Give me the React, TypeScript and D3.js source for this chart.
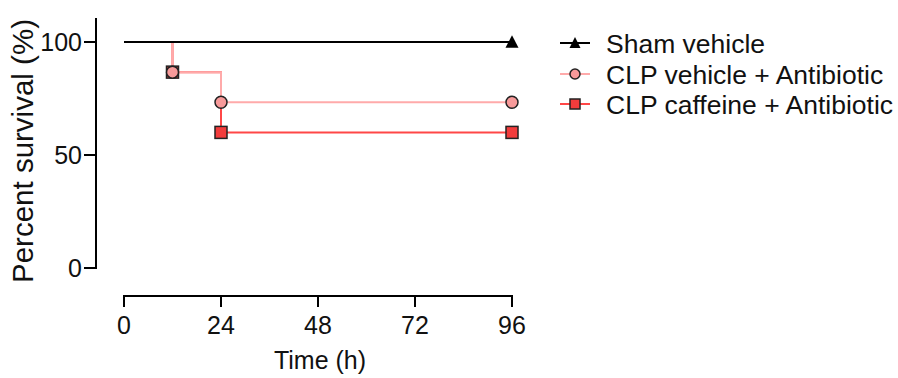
import React from "react";
import * as d3 from "d3";

const seriesNames = ["Sham vehicle", "CLP vehicle + Antibiotic", "CLP caffeine + Antibiotic"];
const shamTimes = [0, 96];
const shamSurvival = [100, 100];
const vehicleTimes = [0, 12, 24, 96];
const vehicleSurvival = [100, 86.67, 73.33, 73.33];
const vehicleMarkTimes = [12, 24, 96];
const vehicleMarkSurv = [86.67, 73.33, 73.33];
const caffeineTimes = [0, 12, 24, 96];
const caffeineSurvival = [100, 86.67, 60, 60];
const caffeineMarkTimes = [12, 24, 96];
const caffeineMarkSurv = [86.67, 60, 60];
const shamMarkTimes = [96];
const shamMarkSurv = [100];
const xTicks = [0, 24, 48, 72, 96];
const yTicks = [0, 50, 100];

const FONT = "'Liberation Sans', Arial, Helvetica, sans-serif";
const BLACK = "#000";
const PINK_LINE = "#ffaaaa";
const PINK_FILL = "#f79a9a";
const RED_LINE = "#ff4747";
const RED_FILL = "#f23c3c";

export default function App() {
  const x = d3.scaleLinear().domain([0, 96]).range([124, 512]);
  const y = d3.scaleLinear().domain([0, 100]).range([268, 42]);
  const yTop = y(110.6);

  const stepLine = d3
    .line<[number, number]>()
    .x((d) => x(d[0]))
    .y((d) => y(d[1]))
    .curve(d3.curveStepAfter);

  const zip = (a: number[], b: number[]) => a.map((v, i) => [v, b[i]] as [number, number]);

  const square = (cx: number, cy: number, s: number, fill: string, key: string) => (
    <rect key={key} x={cx - s / 2} y={cy - s / 2} width={s} height={s} fill={fill} stroke="#222" strokeWidth={1.5} />
  );
  const circle = (cx: number, cy: number, r: number, fill: string, key: string) => (
    <circle key={key} cx={cx} cy={cy} r={r} fill={fill} stroke="#222" strokeWidth={1.5} />
  );
  const tri = (cx: number, cy: number, s: number, key: string) => {
    const h = s * 0.9;
    return (
      <path
        key={key}
        d={`M${cx},${cy - h / 2 - 1}L${cx + s / 2},${cy + h / 2}L${cx - s / 2},${cy + h / 2}Z`}
        fill={BLACK}
      />
    );
  };

  const legendY = [43, 74, 104];

  return (
    <svg
      width={898}
      height={378}
      style={{ position: "absolute", left: 0, top: 0, background: "#fff" }}
      fontFamily={FONT}
    >
      {/* Y axis */}
      <line x1={96} x2={96} y1={yTop} y2={y(0) + 1} stroke={BLACK} strokeWidth={2} />
      {yTicks.map((t) => (
        <g key={"yt" + t}>
          <line x1={84} x2={96} y1={y(t)} y2={y(t)} stroke={BLACK} strokeWidth={2} />
          <text x={82} y={y(t)} dy="0.36em" textAnchor="end" fontSize={25} fill="#111">
            {t}
          </text>
        </g>
      ))}
      <text
        transform={`translate(33, ${151}) rotate(-90)`}
        textAnchor="middle"
        fontSize={29.5}
        fill="#111"
      >
        Percent survival (%)
      </text>

      {/* X axis */}
      <line x1={x(0) - 1} x2={x(96) + 1} y1={296} y2={296} stroke={BLACK} strokeWidth={2} />
      {xTicks.map((t) => (
        <g key={"xt" + t}>
          <line x1={x(t)} x2={x(t)} y1={296} y2={307} stroke={BLACK} strokeWidth={2} />
          <text x={x(t)} y={334} textAnchor="middle" fontSize={25} fill="#111">
            {t}
          </text>
        </g>
      ))}
      <text x={320} y={369} textAnchor="middle" fontSize={25} fill="#111">
        Time (h)
      </text>

      {/* Curves */}
      <path d={stepLine(zip(caffeineTimes, caffeineSurvival)) || ""} fill="none" stroke={RED_LINE} strokeWidth={2} />
      <path d={stepLine(zip(vehicleTimes, vehicleSurvival)) || ""} fill="none" stroke={PINK_LINE} strokeWidth={2} />
      <path d={stepLine(zip(shamTimes, shamSurvival)) || ""} fill="none" stroke={BLACK} strokeWidth={2} />

      {caffeineMarkTimes.map((t, i) => square(x(t), y(caffeineMarkSurv[i]), 12, RED_FILL, "cs" + i))}
      {vehicleMarkTimes.map((t, i) => circle(x(t), y(vehicleMarkSurv[i]), 6, PINK_FILL, "vc" + i))}
      {shamMarkTimes.map((t, i) => tri(x(t), y(shamMarkSurv[i]), 13, "st" + i))}

      {/* Legend */}
      {seriesNames.map((name, i) => {
        const ly = legendY[i];
        const color = i === 0 ? BLACK : i === 1 ? PINK_LINE : RED_LINE;
        return (
          <g key={"lg" + i}>
            <line x1={560} x2={590} y1={ly} y2={ly} stroke={color} strokeWidth={2} />
            {i === 0 && tri(575, ly, 11, "lt")}
            {i === 1 && circle(575, ly, 5, PINK_FILL, "lc")}
            {i === 2 && square(575, ly, 10, RED_FILL, "ls")}
            <text x={606} y={ly} dy="0.36em" fontSize={26.5} fill="#111">
              {name}
            </text>
          </g>
        );
      })}
    </svg>
  );
}
